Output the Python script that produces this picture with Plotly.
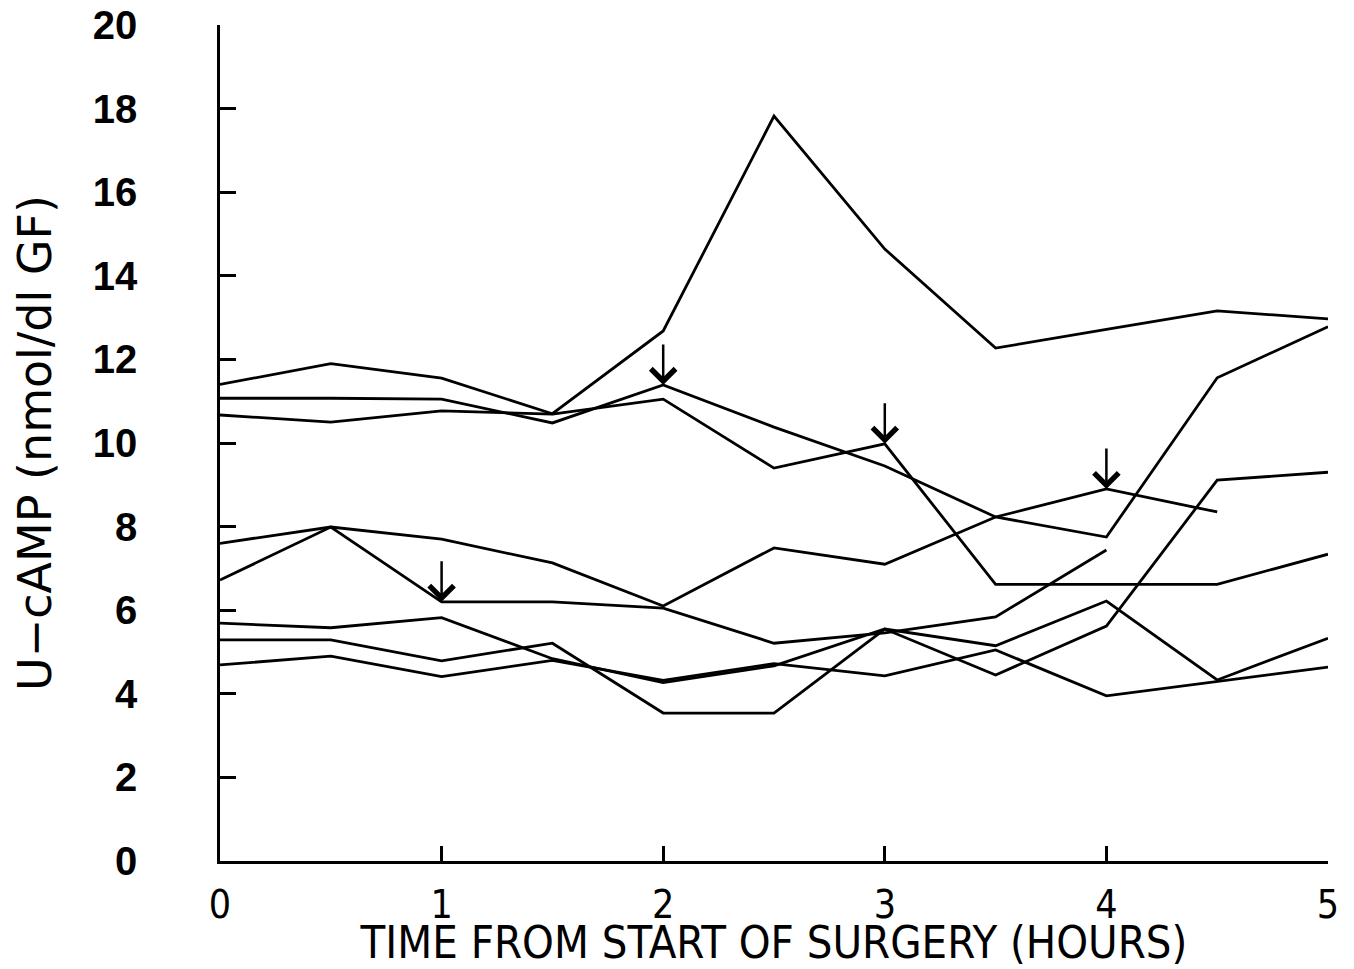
import plotly.graph_objects as go

# Time points (hours from start of surgery)
hours = [0, 0.5, 1, 1.5, 2, 2.5, 3, 3.5, 4, 4.5, 5]

# U-cAMP (nmol/dl GF) per patient
patient_a = [11.4, 11.9, 11.55, 10.7, 12.68, 17.82, 14.64, 12.27, 12.72, 13.16, 12.97]
patient_b = [11.07, 11.07, 11.05, 10.48, 11.39, 10.38, 9.45, 8.23, 7.75, 11.56, 12.78]
patient_c = [10.67, 10.5, 10.77, 10.69, 11.05, 9.4, 9.98, 6.62, 6.62, 6.62, 7.34]
patient_d = [7.6, 7.99, 7.7, 7.13, 6.1, 7.49, 7.1, 8.23, 8.9, 8.35, None]
patient_e = [6.72, 7.99, 6.2, 6.2, 6.05, 5.21, 5.46, 5.84, 7.44, None, None]
patient_f = [5.69, 5.58, 5.82, 4.84, 4.27, 4.67, 5.55, 5.15, 6.22, 4.33, 5.33]
patient_g = [5.29, 5.29, 4.79, 5.21, 3.54, 3.54, 5.55, 4.45, 5.62, 9.11, 9.3]
patient_h = [4.69, 4.9, 4.41, 4.8, 4.32, 4.72, 4.43, 5.05, 3.95, 4.3, 4.64]

series = [patient_a, patient_b, patient_c, patient_d,
          patient_e, patient_f, patient_g, patient_h]

# Arrow markers: (series, index of time point)
arrow_marks = [(patient_e, 2), (patient_b, 4), (patient_c, 6), (patient_d, 8)]

y_ticks = list(range(0, 21, 2))
x_ticks = [0, 1, 2, 3, 4, 5]

fig = go.Figure()
for s in series:
    fig.add_trace(go.Scatter(x=hours, y=s, mode="lines",
                             line=dict(color="black", width=2.8),
                             showlegend=False, hoverinfo="skip"))

for s, i in arrow_marks:
    fig.add_annotation(x=hours[i], y=s[i], xref="x", yref="y",
                       ax=0, ay=-42, showarrow=True, text="",
                       arrowhead=4, arrowsize=1.9, arrowwidth=2.5,
                       arrowcolor="black", standoff=0)

# page body adds an 8px offset, so the figure is sized/margined to compensate
fig.update_layout(
    width=1346, height=961,
    margin=dict(l=212, r=26, t=17, b=108),
    paper_bgcolor="white", plot_bgcolor="white",
    showlegend=False,
)

fig.update_xaxes(
    range=[0, 5], tickvals=x_ticks, ticktext=[str(v) for v in x_ticks],
    showline=True, linecolor="black", linewidth=2.5,
    ticks="inside", ticklen=15, tickwidth=2.5, tickcolor="black",
    showgrid=False, zeroline=False, automargin=False,
    ticklabeloverflow="allow",
    tickfont=dict(family="DejaVu Sans Condensed", size=39, color="black"),
    ticklabelstandoff=7,
    title=dict(text="TIME FROM START OF SURGERY (HOURS)",
               font=dict(family="DejaVu Sans Condensed", size=45, color="black"),
               standoff=21),
)

fig.update_yaxes(
    range=[0, 20], tickvals=y_ticks, ticktext=[str(v) for v in y_ticks],
    showline=True, linecolor="black", linewidth=2.5,
    ticks="inside", ticklen=16, tickwidth=2.5, tickcolor="black",
    showgrid=False, zeroline=False, automargin=False,
    ticklabeloverflow="allow",
    tickfont=dict(family="Liberation Sans", size=40, color="black", weight="bold"),
    ticklabelstandoff=72,
    title=dict(text="U\u2212cAMP (nmol/dl GF)",
               font=dict(family="DejaVu Sans", size=46, color="black"),
               standoff=42),
)

fig.write_html("out.html")
